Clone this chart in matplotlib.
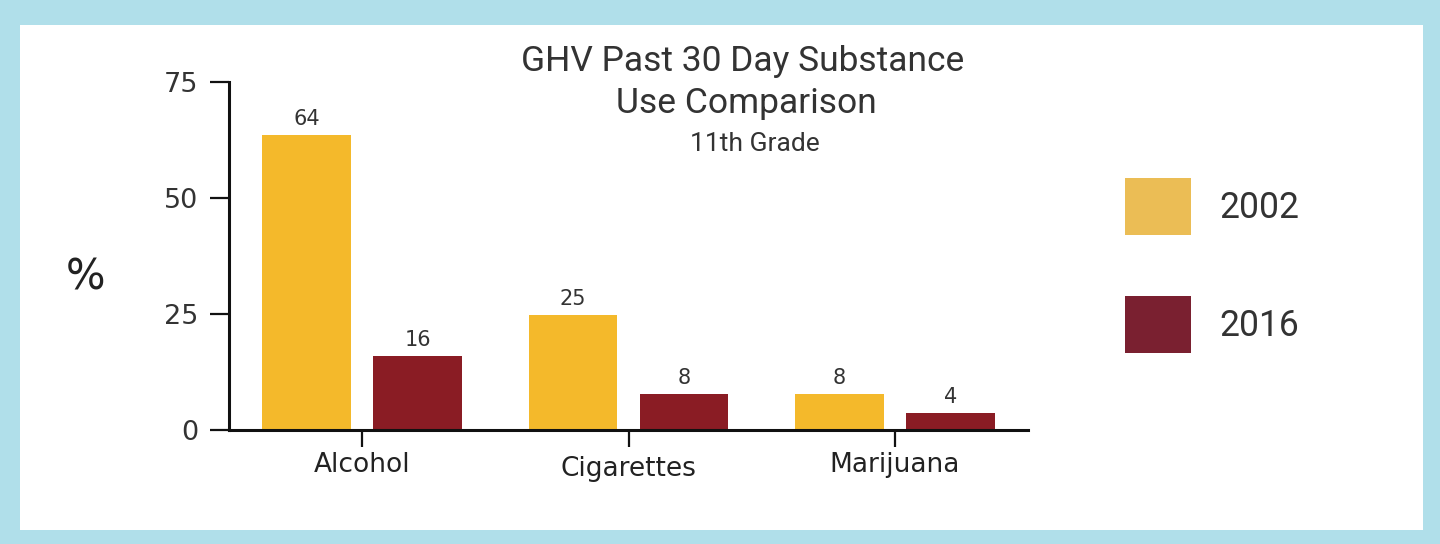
import matplotlib.pyplot as plt
from matplotlib.patches import Patch, Rectangle
from matplotlib.transforms import ScaledTranslation
import numpy as np

# data
categories = ["Alcohol", "Cigarettes", "Marijuana"]
years = ["2002", "2016"]
vals_2002 = [63.6, 24.8, 7.8]
vals_2016 = [15.9, 7.8, 3.7]
yticks = [0, 25, 50, 75]

bar_cols = ["#F4B92B", "#8A1C24"]
legend_cols = ["#EBBD55", "#7A2030"]
border = "#B0DFEA"
txt = "#333333"

fig = plt.figure(figsize=(14.4, 5.44), dpi=100)
fig.patch.set_facecolor(border)
# white card inside the blue frame
fig.patches.append(Rectangle((20 / 1440, 1 - 530 / 544), 1403 / 1440, 505 / 544,
                             transform=fig.transFigure, facecolor="white",
                             edgecolor="none", zorder=-5))

ax = fig.add_axes([229 / 1440, 1 - 430 / 544, 799 / 1440, 348 / 544])
ax.set_facecolor("none")
ax.set_zorder(3)

x = np.arange(len(categories))
w = 0.333
off = 0.208
b1 = ax.bar(x - off, vals_2002, w, color=bar_cols[0])
b2 = ax.bar(x + off, vals_2016, w, color=bar_cols[1])

for bars in (b1, b2):
    for r in bars:
        h = r.get_height()
        ax.text(r.get_x() + r.get_width() / 2, h + 1.3, f"{h:.0f}",
                ha="center", va="bottom", fontsize=15, color=txt,
                family="DejaVu Sans")

ax.set_xlim(-0.5, 2.5)
ax.set_ylim(0, 75)
ax.set_yticks(yticks)
ax.set_xticks(x)
ax.set_xticklabels(categories)

for s in ["top", "right"]:
    ax.spines[s].set_visible(False)
for s in ["left", "bottom"]:
    ax.spines[s].set_linewidth(2.2)
    ax.spines[s].set_color("#111111")

ax.tick_params(axis="y", length=14, width=1.6, color="#111111",
               labelsize=19.5, labelcolor=txt, pad=8)
ax.tick_params(axis="x", length=12, width=1.6, color="#111111",
               labelsize=19, labelcolor="#222222", pad=4)
for lab in ax.get_yticklabels() + ax.get_xticklabels():
    lab.set_family("DejaVu Sans")
# the middle label sits a little lower in the original
cig = ax.get_xticklabels()[1]
cig.set_transform(cig.get_transform() + ScaledTranslation(0, -3 / 72, fig.dpi_scale_trans))

fig.text(86 / 1440, 1 - 278 / 544, "%", fontsize=30, color="#222222",
         ha="center", va="center", family="DejaVu Sans")

# titles
fig.text(743 / 1440, 1 - 61 / 544, "GHV Past 30 Day Substance", fontsize=25.5,
         color=txt, ha="center", va="center", family="Roboto")
fig.text(746 / 1440, 1 - 103 / 544, "Use Comparison", fontsize=25.5,
         color=txt, ha="center", va="center", family="Roboto")
fig.text(755 / 1440, 1 - 144 / 544, "11th Grade", fontsize=19,
         color=txt, ha="center", va="center", family="Roboto")

handles = [Patch(facecolor=c, edgecolor="none") for c in legend_cols]
fig.legend(handles, years, loc="upper left",
           bbox_to_anchor=(1093 / 1440, 1 - 146 / 544),
           frameon=False, prop={"family": "Roboto", "size": 25.6},
           handlelength=1.86, handleheight=2.07, handletextpad=0.8,
           labelspacing=1.74, labelcolor=txt)

fig.savefig("out.png", dpi=100, facecolor=fig.get_facecolor())
